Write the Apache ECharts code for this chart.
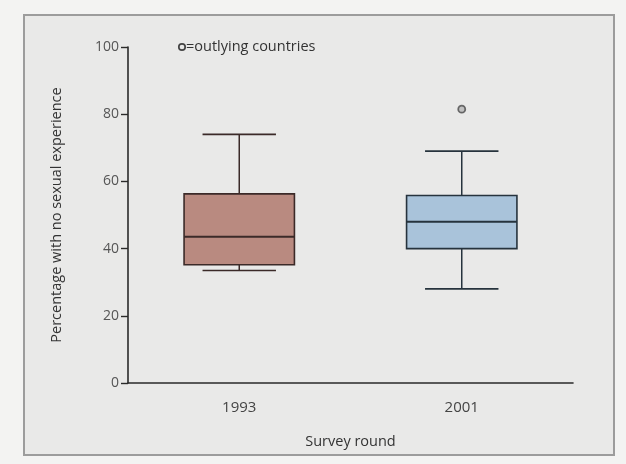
<!DOCTYPE html>
<html>
<head>
<meta charset="utf-8">
<script src="https://cdn.jsdelivr.net/npm/echarts@6/dist/echarts.min.js"></script>
<style>
  html, body { margin: 0; padding: 0; background: #f3f3f2; }
  #chart { width: 626px; height: 464px; }
</style>
</head>
<body>
<div id="chart"></div>
<script>
// Survey rounds and the five-number summaries per round
const categories = ['1993', '2001'];
const lowWhisker = [33.5, 28];
const q1 = [35.2, 40];
const median = [43.5, 48];
const q3 = [56.3, 55.8];
const highWhisker = [74, 69];
// Outlying countries: [round, percentage]
const outliers = [['2001', 81.5]];
const yTicks = [0, 20, 40, 60, 80, 100];

const boxFill = ['#b98a80', '#a9c3da'];
const boxEdge = ['#3b2a28', '#26333d'];

const boxData = categories.map((c, i) => [i, lowWhisker[i], q1[i], median[i], q3[i], highWhisker[i]]);

const FONT = '"Open Sans", "Noto Sans", sans-serif';
const chart = echarts.init(document.getElementById('chart'));

chart.setOption({
  backgroundColor: '#f3f3f2',
  animation: false,
  graphic: [
    {
      type: 'rect', z: -10, silent: true,
      shape: { x: 24, y: 15, width: 590, height: 440 },
      style: { fill: '#e9e9e8', stroke: '#9c9c9c', lineWidth: 2 }
    },
    {
      type: 'circle', z: 10,
      shape: { cx: 182, cy: 47, r: 3.2 },
      style: { fill: '#e9e9e8', stroke: '#444', lineWidth: 1.7 }
    },
    {
      type: 'text', z: 10,
      style: {
        x: 186, y: 47, text: '=outlying countries', verticalAlign: 'middle',
        font: '14.5px ' + FONT, fill: '#333'
      }
    }
  ],
  grid: { left: 128, right: 53, top: 47, bottom: 81, containLabel: false },
  xAxis: {
    type: 'category',
    data: categories,
    boundaryGap: true,
    name: 'Survey round',
    nameLocation: 'middle',
    nameGap: 51,
    nameTextStyle: { fontSize: 14.5, color: '#333', fontFamily: FONT },
    axisLine: { lineStyle: { color: '#2a2a2a', width: 1.6 } },
    axisTick: { show: false },
    axisLabel: { fontSize: 15, color: '#444', margin: 17, fontFamily: FONT },
    splitLine: { show: false }
  },
  yAxis: {
    type: 'value',
    min: 0, max: 100, interval: 20,
    name: 'Percentage with no sexual experience',
    nameLocation: 'middle',
    nameGap: 64,
    nameTextStyle: { fontSize: 14.5, color: '#333', fontFamily: FONT },
    axisLine: { show: true, lineStyle: { color: '#2a2a2a', width: 1.6 } },
    axisTick: { show: true, length: 7, lineStyle: { color: '#2a2a2a', width: 1.4 } },
    axisLabel: {
      fontSize: 14, color: '#555', margin: 9,
      fontFamily: FONT,
      formatter: v => yTicks.includes(v) ? String(v) : ''
    },
    splitLine: { show: false }
  },
  series: [
    {
      type: 'custom',
      name: 'Distribution',
      data: boxData,
      encode: { x: 0, y: [1, 2, 3, 4, 5] },
      renderItem: (params, api) => {
        const i = api.value(0);
        const band = api.size([1, 0])[0];
        const halfBox = band * 0.248;
        const halfCap = band * 0.165;
        const pt = v => api.coord([i, v]);
        const lo = pt(api.value(1));
        const b1 = pt(api.value(2));
        const md = pt(api.value(3));
        const b3 = pt(api.value(4));
        const hi = pt(api.value(5));
        const cx = lo[0];
        const edge = boxEdge[i];
        const line = (x1, y1, x2, y2, w) => ({
          type: 'line',
          shape: { x1, y1, x2, y2 },
          style: { stroke: edge, lineWidth: w }
        });
        return {
          type: 'group',
          children: [
            line(cx, hi[1], cx, b3[1], 1.5),
            line(cx, b1[1], cx, lo[1], 1.5),
            line(cx - halfCap, hi[1], cx + halfCap, hi[1], 1.6),
            line(cx - halfCap, lo[1], cx + halfCap, lo[1], 1.6),
            {
              type: 'rect',
              shape: { x: cx - halfBox, y: b3[1], width: halfBox * 2, height: b1[1] - b3[1] },
              style: { fill: boxFill[i], stroke: edge, lineWidth: 1.6 }
            },
            line(cx - halfBox, md[1], cx + halfBox, md[1], 2)
          ]
        };
      }
    },
    {
      type: 'scatter',
      name: 'Outlying countries',
      data: outliers,
      symbol: 'circle',
      symbolSize: 7,
      itemStyle: { color: '#b5b5b5', borderColor: '#4a4a4a', borderWidth: 1.8 }
    }
  ]
});
</script>
</body>
</html>
